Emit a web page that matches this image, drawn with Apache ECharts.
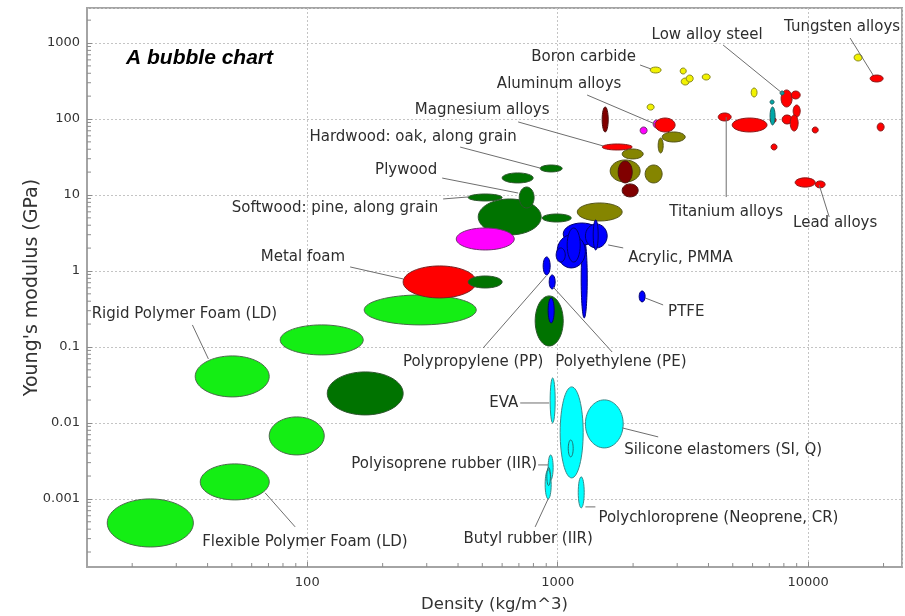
<!DOCTYPE html>
<html>
<head>
<meta charset="utf-8">
<script src="https://cdn.jsdelivr.net/npm/echarts@6/dist/echarts.min.js"></script>
<style>
  html, body { margin: 0; padding: 0; background: #fff; }
  #chart { width: 905px; height: 616px; }
</style>
</head>
<body>
<div id="chart"></div>
<script>
// Material property ranges: [density low, density high (kg/m^3), modulus low, modulus high (GPa)]
const polymerFoams = [
  [15.9, 35.1, 0.000233, 0.001],
  [37.4, 70.5, 0.00097, 0.00289],
  [35.7, 70.5, 0.022, 0.0762],
  [70.5, 116.9, 0.00379, 0.012],
  [78, 167.3, 0.0785, 0.195],
  [168.8, 472.9, 0.195, 0.483]
];
const metalFoams = [
  [241.5, 472.9, 0.4415, 1.164]
];
const naturalMaterials = [
  [120.2, 241.5, 0.01274, 0.0469],
  [481.6, 859, 2.98, 8.86],
  [439.2, 600, 0.597, 0.859],
  [439, 600, 8.34, 10.3],
  [600, 798, 14.4, 19.5],
  [851, 1042, 20.1, 24.8],
  [867, 1133, 4.41, 5.62],
  [702, 805, 6.74, 12.74],
  [813, 1052, 0.103, 0.469]
];
const glasses = [
  [393.6, 670.6, 1.89, 3.68],
  [2134, 2275, 63.6, 78.5],
  [2405, 2564, 76.2, 97]
];
const composites = [
  [1197, 1809, 4.55, 7.85],
  [1809, 2194, 29.8, 40.3],
  [1620, 2134, 14.8, 28.9],
  [2234, 2612, 14.4, 24.8],
  [2519, 2637, 35.7, 56.2],
  [2612, 3229, 49.8, 67.5]
];
const castAlloys = [
  [1505, 1591, 67.5, 144],
  [1744, 1984, 14.4, 28],
  [1809, 2096, 9.43, 13.97]
];
const metals = [
  [1505, 1984, 39.1, 46.9],
  [2449, 2943, 67.5, 103],
  [7798, 8630, 144, 241],
  [8556, 9296, 183.4, 233.6],
  [8713, 9296, 106, 152.7],
  [7870, 8630, 85.9, 113],
  [8477, 9121, 69.5, 113],
  [7047, 7446, 88.6, 106],
  [4375, 4927, 94.2, 120],
  [4972, 6853, 67.5, 103],
  [10380, 10970, 65.5, 78.5],
  [7112, 7512, 39.1, 46.9],
  [8873, 10670, 12.7, 16.8],
  [10670, 11690, 12.4, 15.3],
  [17680, 19930, 307, 379],
  [18860, 20110, 69.5, 88.6]
];
const otherMetals = [
  [7047, 7310, 157, 177.8],
  [7047, 7378, 83.4, 144],
  [7726, 8018, 207, 233.6]
];
const ceramics = [
  [2339, 2588, 403, 483],
  [3083, 3260, 391, 469],
  [3113, 3350, 280, 346],
  [3260, 3476, 307, 379],
  [3776, 4063, 326, 391],
  [5923, 6252, 194.6, 256],
  [2275, 2427, 131, 157],
  [15260, 16430, 580, 716]
];
const polymers = [
  [916, 968, 0.207, 0.4415],
  [875, 933, 0.886, 1.53],
  [925, 977, 0.58, 0.886],
  [1241, 1312, 0.241, 2.56],
  [1052, 1478, 2.2, 4.28],
  [995, 1290, 1.095, 2.98],
  [1290, 1576, 2.01, 4.15],
  [1091, 1230, 1.31, 3.68],
  [986, 1072, 1.31, 2.01],
  [1386, 1451, 1.89, 4.69],
  [2115, 2234, 0.391, 0.546]
];
const elastomers = [
  [933, 977, 0.01, 0.0391],
  [1023, 1264, 0.00189, 0.0298],
  [1290, 1826, 0.00469, 0.0201],
  [1208, 1276, 0.000762, 0.00195],
  [916, 959, 0.00178, 0.00379],
  [891, 942, 0.001, 0.00241]
];
const elastomerGrades = [
  [1102, 1153, 0.00357, 0.00597],
  [905, 935, 0.0015, 0.0026]
];

// Annotated materials: name, density, modulus of the point the leader line touches
const labelNames = [
  'Tungsten alloys', 'Low alloy steel', 'Boron carbide', 'Aluminum alloys',
  'Magnesium alloys', 'Hardwood: oak, along grain', 'Plywood',
  'Softwood: pine, along grain', 'Metal foam', 'Rigid Polymer Foam (LD)',
  'Flexible Polymer Foam (LD)', 'Polypropylene (PP)', 'Polyethylene (PE)',
  'PTFE', 'Acrylic, PMMA', 'Titanium alloys', 'Lead alloys', 'EVA',
  'Silicone elastomers (SI, Q)', 'Polyisoprene rubber (IIR)',
  'Butyl rubber (IIR)', 'Polychloroprene (Neoprene, CR)'
];
const labelDensity = [18170, 7870, 2360, 2449, 1519, 851, 695.5, 439, 241.5, 40.3,
  67.9, 899, 959, 2234, 1591, 4708, 11070, 925, 1809, 916, 916, 1290];
const labelModulus = [379, 219.8, 455, 85.9, 44.2, 22.6, 10.6, 9.42, 0.785, 0.0695,
  0.0012, 0.859, 0.615, 0.4415, 2.2, 106, 13.55, 0.0183, 0.0086, 0.0028, 0.001, 0.000785];

// Label placement (pixel offsets from the touched point): leader start, text position, alignment
const labelLayout = {
  'Tungsten alloys': { line: [-23, -37], text: [-31, -48], align: 'center' },
  'Low alloy steel': { line: [-59, -48], text: [-75, -58], align: 'center' },
  'Boron carbide': { line: [-11, -4], text: [-15, -12], align: 'right' },
  'Aluminum alloys': { line: [-68, -29], text: [-96, -40], align: 'center' },
  'Magnesium alloys': { line: [-85, -24], text: [-121, -36], align: 'center' },
  'Hardwood: oak, along grain': { line: [-80, -21], text: [-127, -31], align: 'center' },
  'Plywood': { line: [-76, -15], text: [-112, -23], align: 'center' },
  'Softwood: pine, along grain': { line: [-25, 2], text: [-30, 11], align: 'right' },
  'Metal foam': { line: [-53, -12], text: [-58, -22], align: 'right' },
  'Rigid Polymer Foam (LD)': { line: [-16, -34], text: [-24, -45], align: 'center' },
  'Flexible Polymer Foam (LD)': { line: [30, 34], text: [-63, 49], align: 'left' },
  'Polypropylene (PP)': { line: [-63, 72], text: [-73, 86], align: 'center' },
  'Polyethylene (PE)': { line: [59, 65], text: [2, 75], align: 'left' },
  'PTFE': { line: [18, 7], text: [23, 14], align: 'left' },
  'Acrylic, PMMA': { line: [15, 3], text: [20, 13], align: 'left' },
  'Titanium alloys': { line: [0, 80], text: [0, 95], align: 'center' },
  'Lead alloys': { line: [10, 32], text: [16, 38], align: 'center' },
  'EVA': { line: [-29, 0], text: [-31, 0], align: 'right' },
  'Silicone elastomers (SI, Q)': { line: [36, 9], text: [2, 22], align: 'left' },
  'Polyisoprene rubber (IIR)': { line: [-10, 0], text: [-11, -1], align: 'right' },
  'Butyl rubber (IIR)': { line: [-13, 28], text: [-20, 40], align: 'center' },
  'Polychloroprene (Neoprene, CR)': { line: [10, 0], text: [13, 11], align: 'left' }
};

const X_MIN = 13.2, X_MAX = 23700;
const Y_MIN = 0.000127, Y_MAX = 2890;
const xMajor = [100, 1000, 10000];
const yMajor = [0.001, 0.01, 0.1, 1, 10, 100, 1000];

// Family styles, in drawing order
const families = [
  { data: polymerFoams, fill: '#14ee14', stroke: '#4a6a4a' },
  { data: metalFoams, fill: '#ff0000', stroke: '#7a2020' },
  { data: naturalMaterials, fill: '#007300', stroke: '#2c552c' },
  { data: glasses, fill: '#ff00ff', stroke: '#703070' },
  { data: composites, fill: '#858500', stroke: '#55551a' },
  { data: castAlloys, fill: '#800000', stroke: '#4a1010' },
  { data: metals, fill: '#ff0000', stroke: '#8a1a1a' },
  { data: otherMetals, fill: '#00a8a8', stroke: '#206060' },
  { data: ceramics, fill: '#f2f200', stroke: '#8a8a20' },
  { data: polymers, fill: '#0000ff', stroke: '#000070' },
  { data: elastomers, fill: '#00ffff', stroke: '#3a8a8a' },
  { data: elastomerGrades, fill: 'rgba(0,0,0,0)', stroke: '#207070' }
];

function ellipseRenderer(fill, stroke) {
  return function (params, api) {
    const lo = api.coord([api.value(0), api.value(2)]);
    const hi = api.coord([api.value(1), api.value(3)]);
    return {
      type: 'ellipse',
      shape: {
        cx: (lo[0] + hi[0]) / 2,
        cy: (lo[1] + hi[1]) / 2,
        rx: Math.abs(hi[0] - lo[0]) / 2,
        ry: Math.abs(lo[1] - hi[1]) / 2
      },
      style: { fill: fill, stroke: stroke, lineWidth: 1 }
    };
  };
}

// Minor tick positions for the decade axes (2..9 within each decade)
function minorTicks(lo, hi) {
  const out = [];
  for (let e = Math.floor(Math.log10(lo)); e <= Math.ceil(Math.log10(hi)); e++) {
    for (let m = 2; m <= 9; m++) {
      const v = m * Math.pow(10, e);
      if (v > lo && v < hi) out.push(v);
    }
  }
  return out;
}

const FONT = 'DejaVu Sans';
const AXIS_COLOR = '#a4a4a4';

const series = families.map(function (f, i) {
  return {
    type: 'custom',
    name: 'family' + i,
    renderItem: ellipseRenderer(f.fill, f.stroke),
    encode: { x: [0, 1], y: [2, 3] },
    data: f.data,
    silent: true,
    z: 3
  };
});

series.push({
  type: 'custom',
  name: 'xMinor',
  data: minorTicks(X_MIN, X_MAX).map(function (v) { return [v, Y_MIN]; }),
  encode: { x: 0, y: 1 },
  silent: true,
  z: 2,
  renderItem: function (params, api) {
    const p = api.coord([api.value(0), api.value(1)]);
    return { type: 'line', shape: { x1: p[0], y1: p[1], x2: p[0], y2: p[1] - 4 },
      style: { stroke: '#8c8c8c', lineWidth: 1 } };
  }
});
series.push({
  type: 'custom',
  name: 'yMinor',
  data: minorTicks(Y_MIN, Y_MAX).map(function (v) { return [X_MIN, v]; }),
  encode: { x: 0, y: 1 },
  silent: true,
  z: 2,
  renderItem: function (params, api) {
    const p = api.coord([api.value(0), api.value(1)]);
    return { type: 'line', shape: { x1: p[0], y1: p[1], x2: p[0] + 4, y2: p[1] },
      style: { stroke: '#8c8c8c', lineWidth: 1 } };
  }
});

series.push({
  type: 'custom',
  name: 'labels',
  data: labelNames.map(function (n, i) { return [labelDensity[i], labelModulus[i]]; }),
  encode: { x: 0, y: 1 },
  silent: true,
  z: 5,
  renderItem: function (params, api) {
    const name = labelNames[params.dataIndex];
    const lay = labelLayout[name];
    const p = api.coord([api.value(0), api.value(1)]);
    return {
      type: 'group',
      children: [
        { type: 'line',
          shape: { x1: p[0] + lay.line[0], y1: p[1] + lay.line[1], x2: p[0], y2: p[1] },
          style: { stroke: '#6e6e6e', lineWidth: 1 } },
        { type: 'text',
          x: p[0] + lay.text[0], y: p[1] + lay.text[1],
          style: { text: name, fill: '#2e2e2e', font: '15px "' + FONT + '"',
            align: lay.align, verticalAlign: 'middle' } }
      ]
    };
  }
});

const chart = echarts.init(document.getElementById('chart'), null, { renderer: 'canvas' });
chart.setOption({
  animation: false,
  backgroundColor: '#fff',
  title: {
    text: 'A bubble chart',
    left: 126, top: 48, padding: 0,
    textStyle: { fontFamily: 'Liberation Sans', fontStyle: 'italic', fontWeight: 'bold',
      fontSize: 21, color: '#000' }
  },
  grid: { left: 87, right: 3, top: 8, bottom: 49, show: true, containLabel: false,
    outerBoundsMode: 'none',
    borderColor: AXIS_COLOR, borderWidth: 2, backgroundColor: '#fff' },
  xAxis: {
    type: 'log', logBase: 10, min: X_MIN, max: X_MAX,
    name: 'Density (kg/m^3)', nameLocation: 'middle', nameGap: 29, nameMoveOverlap: false,
    nameTextStyle: { fontFamily: FONT, fontSize: 16.5, color: '#333' },
    axisLine: { lineStyle: { color: AXIS_COLOR, width: 2 } },
    axisTick: { inside: true, length: 5, lineStyle: { color: '#8c8c8c' } },
    axisLabel: { showMinLabel: false, showMaxLabel: false, margin: 9,
      fontFamily: FONT, fontSize: 13, color: '#333',
      formatter: function (v) { return xMajor.indexOf(Math.round(v)) >= 0 ? String(Math.round(v)) : ''; } },
    splitLine: { show: true, lineStyle: { color: '#c4c4c4', type: [2, 2], width: 1 } }
  },
  yAxis: {
    type: 'log', logBase: 10, min: Y_MIN, max: Y_MAX,
    name: "Young's modulus (GPa)", nameLocation: 'middle', nameGap: 45, nameMoveOverlap: false,
    nameTextStyle: { fontFamily: FONT, fontSize: 19, color: '#333' },
    axisLine: { lineStyle: { color: AXIS_COLOR, width: 2 } },
    axisTick: { inside: true, length: 5, lineStyle: { color: '#8c8c8c' } },
    axisLabel: { showMinLabel: false, showMaxLabel: false, margin: 7,
      fontFamily: FONT, fontSize: 13, color: '#333',
      formatter: function (v) {
        for (let i = 0; i < yMajor.length; i++) {
          if (Math.abs(v - yMajor[i]) / yMajor[i] < 1e-6) return String(yMajor[i]);
        }
        return '';
      } },
    splitLine: { show: true, lineStyle: { color: '#c4c4c4', type: [2, 2], width: 1 } }
  },
  series: series
});
</script>
</body>
</html>
